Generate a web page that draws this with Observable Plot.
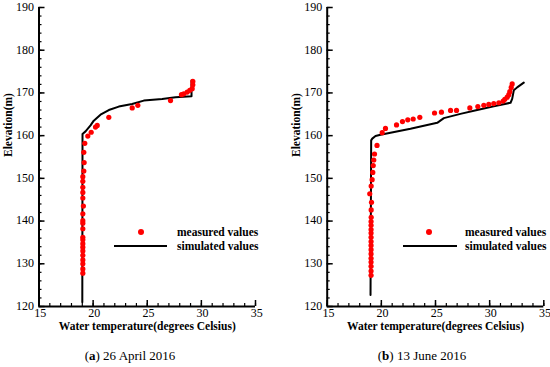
<!DOCTYPE html>
<html><head><meta charset="utf-8">
<script src="https://cdn.jsdelivr.net/npm/d3@7"></script>
<script src="https://cdn.jsdelivr.net/npm/@observablehq/plot@0.6"></script>
<style>
body{margin:0;background:#fff;}
#wrap{position:relative;width:550px;height:367px;font-family:'Liberation Serif','Times New Roman',serif;color:#000;overflow:hidden;}
.panel{position:absolute;top:0;}
.cap{position:absolute;top:348px;font-size:13px;text-align:center;width:275px;white-space:nowrap;}
.legtxt{position:absolute;font-weight:bold;font-size:11.5px;white-space:nowrap;line-height:14px;}
.legdot{position:absolute;width:6px;height:6px;border-radius:50%;background:#ff0000;}
.legline{position:absolute;height:2px;background:#000;}
</style>
</head><body>
<div id="wrap"></div>
<script>
// Axis settings
const xDomain = [15, 35];
const yDomain = [120, 190];
const xMajor = [15, 20, 25, 30, 35];
const xMinor = d3.range(15, 36, 1);
const yMajor = [120, 130, 140, 150, 160, 170, 180, 190];
const yMinor = d3.range(120, 191, 2);
const xTitle = "Water temperature(degrees Celsius)";
const yTitle = "Elevation(m)";
const legendLabels = ["measured values", "simulated values"];

// (a) 26 April 2016
const aMeasTemp = [29.21, 29.21, 29.15, 28.93, 28.69, 28.38, 28.16, 27.15, 24.13, 23.61, 21.45, 20.38, 20.22, 19.82, 19.51, 19.23, 19.14, 19.17, 19.14, 19.05,
  19.05, 19.05, 19.05, 19.05, 19.1, 19.05, 19.05, 19.05, 19.05, 19.05, 19.05, 19.05, 19.05, 19.05, 19.05, 19.05, 19.05, 19.05, 19.05];
const aMeasElev = [172.7, 171.9, 171.0, 170.6, 170.2, 169.8, 169.6, 168.2, 167.1, 166.5, 164.3, 162.4, 162.0, 160.8, 159.9, 158.2, 156.1, 153.7, 151.7, 150.4,
  149.3, 147.9, 146.7, 145.4, 143.5, 141.7, 140.1, 139.5, 138.2, 136.2, 135.6, 134.7, 133.9, 133.0, 132.0, 130.9, 130.0, 128.8, 127.8];
const aSimTemp = [19.0, 19.02, 19.3, 19.76, 20.06, 20.68, 21.45, 22.37, 23.6, 24.68, 26.38, 27.61, 29.09, 29.09];
const aSimElev = [121.0, 160.4, 161.0, 162.4, 163.5, 164.9, 166.0, 166.8, 167.4, 168.2, 168.6, 169.0, 169.2, 172.9];

// (b) 13 June 2016
const bMeasTemp = [32.08, 31.99, 31.86, 31.77, 31.62, 31.4, 31.25, 30.85, 30.38, 29.92, 29.46, 28.91, 28.17, 26.94, 26.39, 25.55, 24.91, 23.55, 22.94, 22.44,
  21.95, 21.4, 20.38, 20.08, 19.6, 19.37, 19.3, 19.25, 19.21, 19.15, 19.06, 18.93, 19.09, 19.06, 19.06, 19.05, 19.05, 19.05, 19.05, 19.05,
  19.05, 19.05, 19.05, 19.05, 19.05, 19.05, 19.05, 19.05, 19.05];
const bMeasElev = [172.1, 171.3, 170.3, 169.6, 169.0, 168.5, 168.1, 167.7, 167.5, 167.3, 167.1, 166.8, 166.5, 165.9, 165.9, 165.5, 165.3, 164.3, 163.9, 163.7,
  163.3, 162.5, 161.7, 160.7, 157.7, 155.7, 154.3, 153.0, 151.4, 149.7, 148.2, 146.4, 144.4, 142.6, 140.9, 139.9, 139.0, 138.0, 137.2, 136.2,
  135.2, 134.3, 133.3, 132.3, 131.3, 130.4, 129.4, 128.3, 127.3];
const bSimTemp = [19.0, 19.06, 19.16, 19.46, 19.92, 22.69, 25.16, 25.77, 27.3, 28.85, 30.38, 31.93, 32.08, 32.23, 32.54, 33.15];
const bSimElev = [122.7, 158.9, 159.3, 159.9, 160.2, 161.6, 163.0, 164.1, 165.1, 166.0, 166.9, 167.7, 168.6, 170.6, 171.3, 172.4];

const FONT = "Liberation Serif, Times New Roman, serif";

function panel(mT, mE, sT, sE, ml, mr) {
  const meas = mT.map((t, i) => ({t, e: mE[i]}));
  const sim = sT.map((t, i) => ({t, e: sE[i]}));
  return Plot.plot({
    width: 275, height: 335,
    marginLeft: ml, marginRight: mr, marginTop: 7, marginBottom: 29,
    x: {domain: xDomain},
    y: {domain: yDomain},
    style: {fontFamily: FONT, fontSize: "12px", background: "white", color: "black", overflow: "visible"},
    marks: [
      Plot.axisX({ticks: xMajor, tickSize: 0, tickPadding: 2, dx: 1.2, label: null, tickFormat: d => String(d)}),
      Plot.axisX({ticks: xMajor, tickSize: 6, dy: -6, fill: "none", strokeWidth: 1.5, label: null}),
      Plot.axisX({ticks: xMinor, tickSize: 3, dy: -3, fill: "none", strokeWidth: 1.2, label: null}),
      Plot.axisY({ticks: yMajor, tickSize: 0, tickPadding: 5, dy: -0.5, label: null, tickFormat: d => String(d)}),
      Plot.axisY({ticks: yMajor, tickSize: 6, dx: 6, fill: "none", strokeWidth: 1.5, label: null}),
      Plot.axisY({ticks: yMinor, tickSize: 3, dx: 3, fill: "none", strokeWidth: 1.2, label: null}),
      Plot.ruleX([xDomain[0]], {strokeWidth: 2}),
      Plot.ruleY([yDomain[0]], {strokeWidth: 2}),
      Plot.line(sim, {x: "t", y: "e", stroke: "black", strokeWidth: 2}),
      Plot.dot(meas, {x: "t", y: "e", r: 2.6, fill: "#ff0000", stroke: "none"}),
      Plot.text([xTitle], {frameAnchor: "bottom", lineAnchor: "middle", dy: 20, fontWeight: "bold", fontSize: 11.5, fill: "black"}),
      Plot.text([yTitle], {frameAnchor: "left", rotate: -90, dx: -31, fontWeight: "bold", fontSize: 11.5, fill: "black"})
    ]
  });
}

const wrap = document.getElementById("wrap");
const pa = document.createElement("div"); pa.className = "panel"; pa.style.left = "0px";
pa.appendChild(panel(aMeasTemp, aMeasElev, aSimTemp, aSimElev, 38.5, 20));
wrap.appendChild(pa);
const pb = document.createElement("div"); pb.className = "panel"; pb.style.left = "275px";
pb.appendChild(panel(bMeasTemp, bMeasElev, bSimTemp, bSimElev, 51.7, 6.7));
wrap.appendChild(pb);

function legend(dotX, lineX1, lineX2, textX) {
  const d = document.createElement("div"); d.className = "legdot";
  d.style.left = (dotX - 3) + "px"; d.style.top = (232 - 3) + "px"; wrap.appendChild(d);
  const l = document.createElement("div"); l.className = "legline";
  l.style.left = lineX1 + "px"; l.style.width = (lineX2 - lineX1) + "px"; l.style.top = "245px"; wrap.appendChild(l);
  legendLabels.forEach((s, i) => {
    const t = document.createElement("div"); t.className = "legtxt"; t.textContent = s;
    t.style.left = textX + "px"; t.style.top = (232 + i * 14 - 7) + "px"; wrap.appendChild(t);
  });
}
legend(141, 114, 167, 177);
legend(429, 403, 457, 465);

const caps = [["a", " 26 April 2016", 0], ["b", " 13 June 2016", 275]];
const capCenters = [130, 147];
caps.forEach(([k, s, off], i) => {
  const c = document.createElement("div"); c.className = "cap";
  c.style.left = (off + capCenters[i] - 137.5) + "px";
  c.innerHTML = "(<b>" + k + "</b>)" + s;
  wrap.appendChild(c);
});
</script>
</body></html>
